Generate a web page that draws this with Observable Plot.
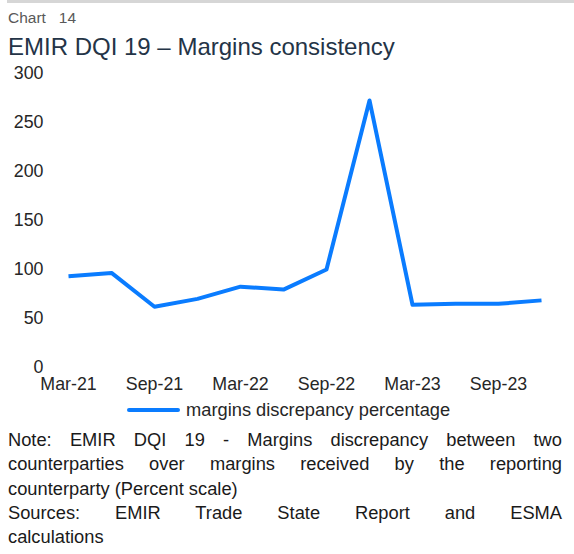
<!DOCTYPE html>
<html>
<head>
<meta charset="utf-8">
<script src="https://cdn.jsdelivr.net/npm/d3@7"></script>
<script src="https://cdn.jsdelivr.net/npm/@observablehq/plot@0.6"></script>
<style>
  html, body { margin: 0; padding: 0; background: #fff; }
  body { width: 574px; height: 554px; position: relative; overflow: hidden;
         font-family: "Liberation Sans", Arial, sans-serif; }
  .rule { position: absolute; left: 7px; right: 0; top: 0; height: 3px; background: #d6d6d6; }
  .kicker { position: absolute; left: 8px; top: 9px; font-size: 15.5px; color: #595959; line-height: 18px; white-space: pre; }
  .title { position: absolute; left: 8px; top: 33px; font-size: 24px; color: #243447; line-height: 28px; white-space: nowrap; }
  #chart { position: absolute; left: 0; top: 62px; }
  .legend { position: absolute; left: 127px; top: 399px; height: 22px; display: flex; align-items: center;
            font-size: 18.3px; color: #262626; }
  .legend .swatch { width: 53px; height: 4px; background: #0a7cff; margin-right: 6px; border-radius: 2px; }
  .note { position: absolute; left: 8px; top: 428px; width: 554px; font-size: 18.3px; line-height: 24.3px; color: #1a1a1a; }
  .note .j { text-align: justify; text-align-last: justify; }
  .note .l { text-align: left; }
</style>
</head>
<body>
<div class="rule"></div>
<div class="kicker">Chart   14</div>
<div class="title">EMIR DQI 19 – Margins consistency</div>
<div id="chart"></div>
<div class="legend"><span class="swatch"></span><span>margins discrepancy percentage</span></div>
<div class="note">
  <div class="j">Note: EMIR DQI 19 - Margins discrepancy between two</div>
  <div class="j">counterparties over margins received by the reporting</div>
  <div class="l">counterparty (Percent scale)</div>
  <div class="j">Sources: EMIR Trade State Report and ESMA</div>
  <div class="l">calculations</div>
</div>
<script>
const quarters = ["Mar-21","Jun-21","Sep-21","Dec-21","Mar-22","Jun-22","Sep-22","Dec-22","Mar-23","Jun-23","Sep-23","Dec-23"];
const values = [93, 96.5, 62, 70, 82.5, 79.5, 100, 272.5, 64, 65, 65, 68.5];
const xTickLabels = ["Mar-21","Sep-21","Mar-22","Sep-22","Mar-23","Sep-23"];
const yTicks = [0, 50, 100, 150, 200, 250, 300];

const data = quarters.map((q, i) => ({q, v: values[i]}));

const chart = Plot.plot({
  width: 574,
  height: 335,
  marginLeft: 65,
  marginRight: 30,
  marginTop: 11,
  marginBottom: 30,
  style: {fontFamily: "'Liberation Sans', Arial, sans-serif", fontSize: "17.5px", color: "#262626", background: "transparent"},
  x: {type: "point", domain: quarters, padding: 0},
  y: {domain: [0, 300]},
  marks: [
    Plot.axisX(xTickLabels, {tickSize: 0, tickPadding: 10, label: null, fontSize: 17.8}),
    Plot.axisY(yTicks, {tickSize: 0, tickPadding: 22, label: null, fontSize: 17.8}),
    Plot.line(data, {x: "q", y: "v", stroke: "#0a7cff", strokeWidth: 4, strokeLinejoin: "round", strokeLinecap: "butt"})
  ]
});
document.getElementById("chart").appendChild(chart);
</script>
</body>
</html>
